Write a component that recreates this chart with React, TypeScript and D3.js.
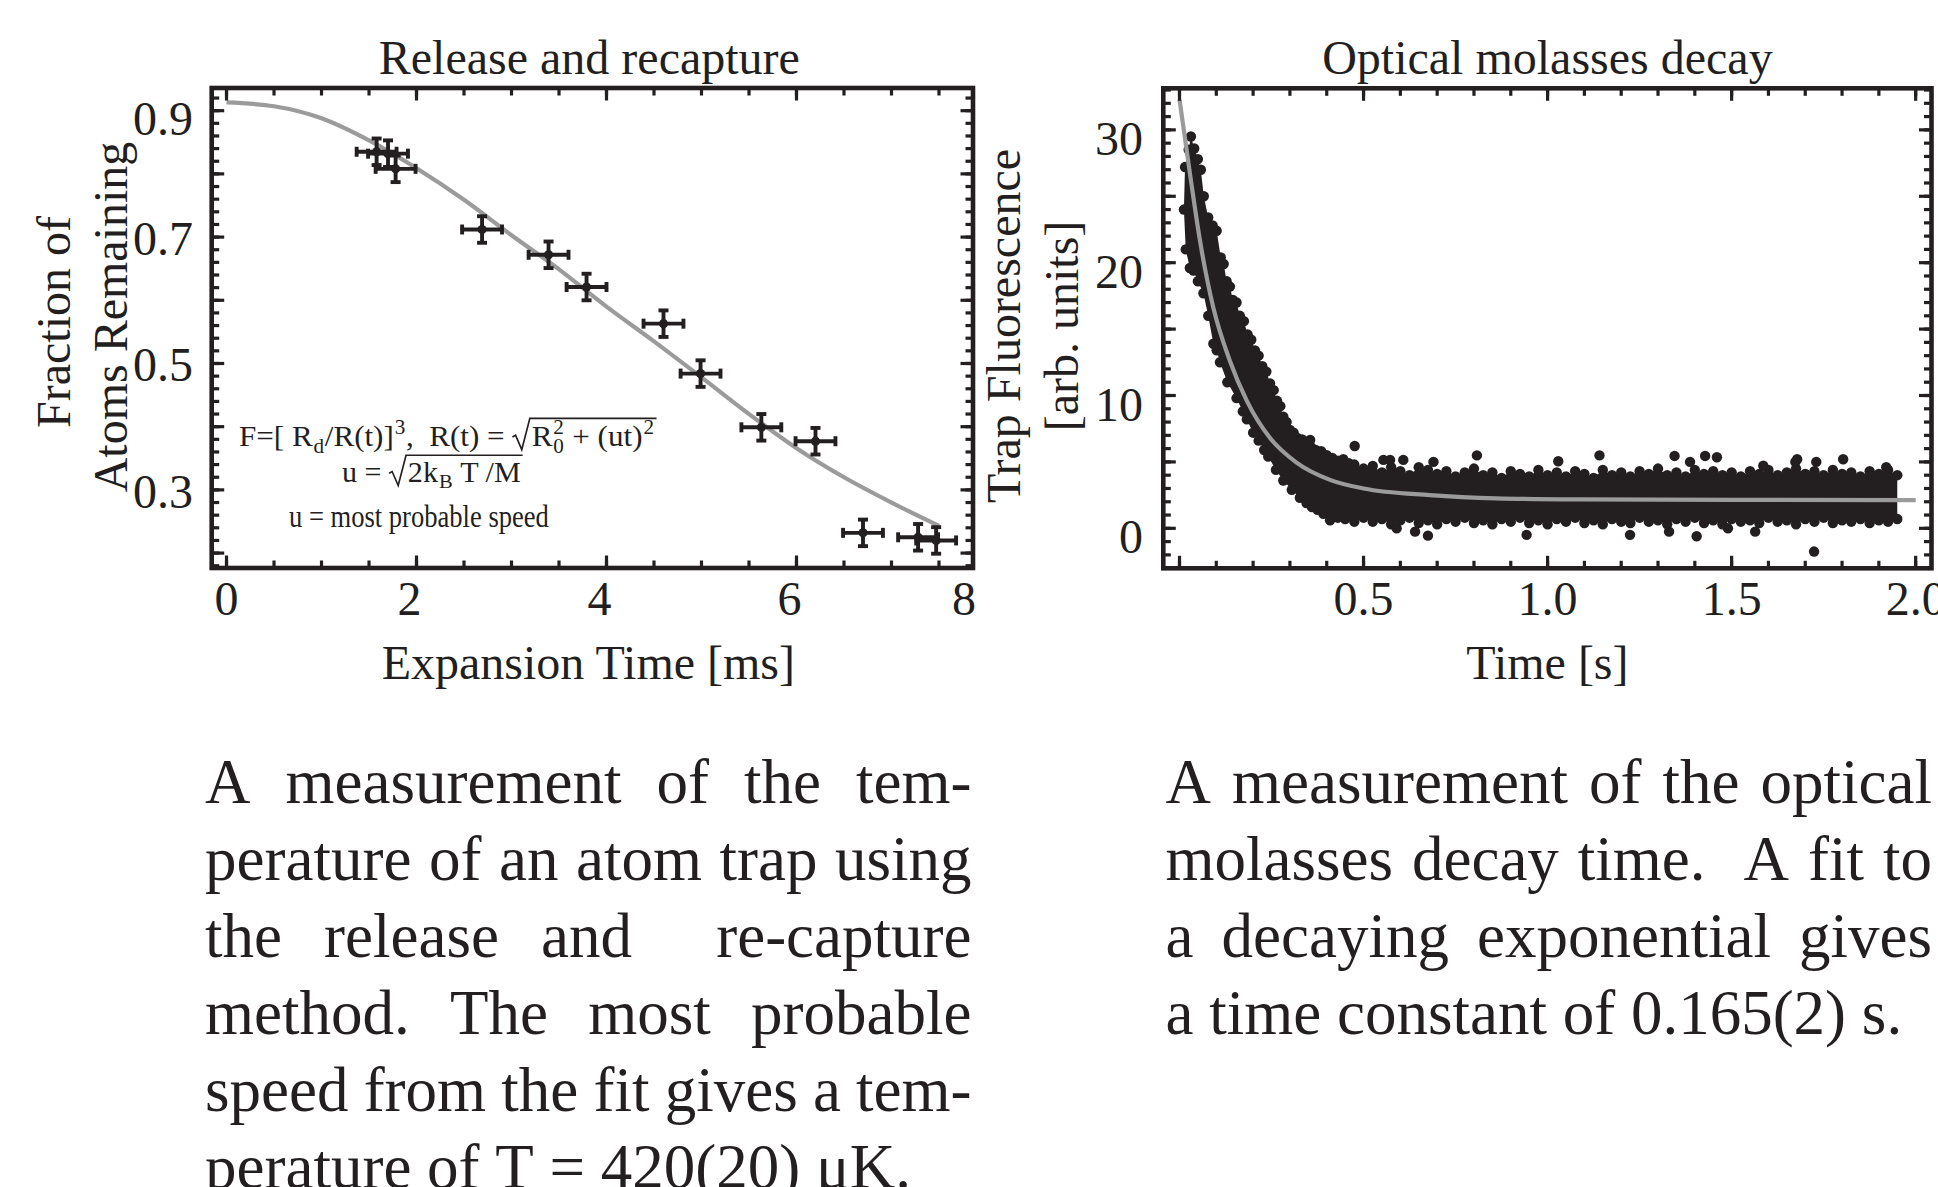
import React, { useEffect, useRef } from "react";
import * as d3 from "d3";

const INK = "#231f20";
const FIT_GRAY = "#9b9b9b";
const SERIF = "'Liberation Serif','Times New Roman',Times,serif";

// ---------------- Left panel: Release and recapture ----------------
const rrTitle = "Release and recapture";
const rrXLabel = "Expansion Time [ms]";
const rrYLabelLines = ["Fraction of", "Atoms Remaining"];
const rrTimes = [1.58, 1.70, 1.78, 2.69, 3.39, 3.79, 4.60, 4.99, 5.63, 6.20, 6.70, 7.28, 7.47];
const rrFractions = [0.835, 0.832, 0.808, 0.712, 0.672, 0.621, 0.563, 0.484, 0.399, 0.377, 0.232, 0.225, 0.220];
const rrTimeErrors = [0.21, 0.21, 0.21, 0.21, 0.21, 0.21, 0.21, 0.21, 0.21, 0.21, 0.21, 0.21, 0.21];
const rrFractionErrors = [0.021, 0.021, 0.021, 0.021, 0.021, 0.021, 0.021, 0.021, 0.021, 0.021, 0.021, 0.021, 0.021];
const rrFitTimes = [0, 0.5, 1.0, 1.5, 2.0, 2.5, 3.0, 3.5, 4.0, 4.5, 5.0, 5.5, 6.0, 6.5, 7.0, 7.5];
const rrFitValues = [0.913, 0.907, 0.888, 0.853, 0.809, 0.759, 0.703, 0.649, 0.590, 0.535, 0.478, 0.420, 0.366, 0.320, 0.280, 0.243];
const rrXTickValues = [0, 2, 4, 6, 8];
const rrXTickLabels = ["0", "2", "4", "6", "8"];
const rrYTickValues = [0.9, 0.7, 0.5, 0.3];
const rrYTickLabels = ["0.9", "0.7", "0.5", "0.3"];
const rrXDomain = [-0.156, 7.858];
const rrYDomain = [0.1764, 0.9359];

// ---------------- Right panel: Optical molasses decay ----------------
const mdTitle = "Optical molasses decay";
const mdXLabel = "Time [s]";
const mdYLabelLines = ["Trap Fluorescence", "[arb. units]"];
const mdFitTimes = [0, 0.03, 0.056, 0.092, 0.137, 0.183, 0.246, 0.318, 0.409, 0.5, 0.68, 0.86, 1.09, 1.5, 2.0];
const mdFitValues = [32.3, 26.4, 21.6, 16.6, 12.6, 9.6, 6.8, 4.95, 3.65, 3.0, 2.5, 2.26, 2.18, 2.14, 2.13];
// upper edge of the dense band of measured points (early decay)
const mdUpperEarlyTimes = [0.015, 0.025, 0.031, 0.040, 0.050, 0.058, 0.066, 0.078, 0.090, 0.101,
  0.112, 0.120, 0.128, 0.137, 0.145, 0.155, 0.164, 0.175, 0.185, 0.195,
  0.205, 0.215, 0.225, 0.236, 0.246, 0.256, 0.265, 0.274, 0.282, 0.291,
  0.300, 0.310, 0.320, 0.333, 0.345, 0.358, 0.370, 0.385, 0.400, 0.415,
  0.430, 0.445, 0.460, 0.475];
const mdUpperEarlyValues = [27.2, 28.5, 29.5, 28.6, 27.8, 27.0, 25.0, 23.4, 22.8, 22.4,
  20.4, 19.9, 18.6, 18.2, 17.2, 17.0, 16.0, 15.6, 14.6, 14.2,
  13.4, 13.0, 12.2, 11.8, 10.9, 10.4, 9.6, 9.2, 8.4, 8.0,
  7.4, 7.2, 6.8, 6.7, 6.3, 6.1, 5.9, 5.8, 5.5, 5.3,
  5.1, 5.2, 4.9, 4.8];
// upper edge of the band on the plateau
const mdUpperLateTimes = [0.500, 0.525, 0.550, 0.575, 0.600, 0.625, 0.650, 0.675, 0.700, 0.725,
  0.750, 0.775, 0.800, 0.825, 0.850, 0.875, 0.900, 0.925, 0.950, 0.975,
  1.000, 1.025, 1.050, 1.075, 1.100, 1.125, 1.150, 1.175, 1.200, 1.225,
  1.250, 1.275, 1.300, 1.325, 1.350, 1.375, 1.400, 1.425, 1.450, 1.475,
  1.500, 1.525, 1.550, 1.575, 1.600, 1.625, 1.650, 1.675, 1.700, 1.725,
  1.750, 1.775, 1.800, 1.825, 1.850, 1.875, 1.900, 1.925, 1.950];
const mdUpperLateValues = [4.5, 4.7, 4.2, 4.6, 4.3, 4.0, 4.6, 4.4, 4.1, 4.3,
  3.9, 4.2, 4.5, 4.0, 4.2, 3.8, 4.3, 4.1, 3.9, 4.4,
  4.0, 4.2, 3.9, 4.3, 4.1, 3.8, 4.4, 4.0, 4.2, 3.9,
  4.3, 4.1, 4.5, 4.0, 4.2, 3.9, 4.4, 4.1, 4.3, 4.0,
  4.2, 3.9, 4.3, 4.1, 4.4, 4.0, 4.2, 4.5, 4.1, 4.3,
  4.0, 4.4, 4.1, 4.2, 3.9, 4.3, 4.1, 4.4, 4.0];
// lower edge of the dense band of measured points
const mdLowerTimes = [0.012, 0.017, 0.028, 0.038, 0.050, 0.065, 0.078, 0.092, 0.101, 0.110,
  0.130, 0.155, 0.172, 0.183, 0.200, 0.215, 0.230, 0.241, 0.262, 0.282,
  0.305, 0.327, 0.345, 0.360, 0.375, 0.391, 0.409, 0.430, 0.450, 0.475,
  0.500, 0.525, 0.550, 0.575, 0.600, 0.625, 0.650, 0.675, 0.700, 0.725,
  0.750, 0.775, 0.800, 0.825, 0.850, 0.875, 0.900, 0.925, 0.950, 0.975,
  1.000, 1.025, 1.050, 1.075, 1.100, 1.125, 1.150, 1.175, 1.200, 1.225,
  1.250, 1.275, 1.300, 1.325, 1.350, 1.375, 1.400, 1.425, 1.450, 1.475,
  1.500, 1.525, 1.550, 1.575, 1.600, 1.625, 1.650, 1.675, 1.700, 1.725,
  1.750, 1.775, 1.800, 1.825, 1.850, 1.875, 1.900, 1.925, 1.950];
const mdLowerValues = [24.0, 21.0, 19.6, 19.4, 18.6, 17.7, 16.0, 13.9, 13.4, 12.5,
  11.0, 9.8, 8.8, 8.2, 7.2, 6.6, 5.9, 5.4, 4.4, 3.6,
  2.9, 2.3, 1.9, 1.6, 1.4, 1.1, 0.6, 0.8, 0.7, 0.5,
  0.8, 0.5, 0.7, 0.3, 0.6, 0.8, 0.4, 0.6, 0.3, 0.7,
  0.5, 0.8, 0.4, 0.6, 0.3, 0.7, 0.5, 0.8, 0.4, 0.6,
  0.3, 0.7, 0.5, 0.8, 0.4, 0.6, 0.3, 0.7, 0.5, 0.4,
  0.8, 0.5, 0.6, 0.3, 0.7, 0.5, 0.8, 0.4, 0.6, 0.3,
  0.7, 0.5, 0.6, 0.4, 0.8, 0.5, 0.6, 0.3, 0.7, 0.5,
  0.8, 0.4, 0.6, 0.5, 0.7, 0.4, 0.6, 0.5, 0.7];
// isolated points outside the band
const mdOutlierTimes = [0.355, 0.476, 0.554, 0.572, 0.608, 0.690, 0.808, 1.029, 1.141, 1.345,
  1.387, 1.428, 1.460, 1.586, 1.673, 1.678, 1.730, 1.803, 1.920,
  0.590, 0.640, 0.675, 0.943, 1.224, 1.330, 1.405, 1.490, 1.564, 1.724];
const mdOutlierValues = [6.65, 6.2, 5.15, 5.15, 5.15, 5.0, 5.49, 5.05, 5.49, 5.45,
  5.0, 5.45, 5.35, 4.71, 5.0, 5.2, 5.0, 5.2, 4.6,
  0.0, -0.25, -0.55, -0.49, -0.49, -0.25, -0.6, 0.0, -0.25, -1.75];
const mdXTickValues = [0.5, 1.0, 1.5, 2.0];
const mdXTickLabels = ["0.5", "1.0", "1.5", "2.0"];
const mdYTickValues = [30, 20, 10, 0];
const mdYTickLabels = ["30", "20", "10", "0"];
const mdXDomain = [-0.044, 2.043];
const mdYDomain = [-3.01, 33.13];

// ---------------- Captions ----------------
const leftCaption = [
  "A measurement of the tem-",
  "perature of an atom trap using",
  "the release and  re-capture",
  "method. The most probable",
  "speed from the fit gives a tem-",
  "perature of T = 420(20) \u03bcK.",
];
const rightCaption = [
  "A measurement of the optical",
  "molasses decay time.  A fit to",
  "a decaying exponential gives",
  "a time constant of 0.165(2) s.",
];

type G = d3.Selection<SVGGElement, unknown, null, undefined>;

function addText(g: G, str: string, x: number, y: number, size: number, anchor = "start") {
  return g
    .append("text")
    .attr("x", x)
    .attr("y", y)
    .attr("font-family", SERIF)
    .attr("font-size", size)
    .attr("fill", INK)
    .attr("text-anchor", anchor)
    .style("white-space", "pre")
    .text(str);
}

function drawFrame(
  g: G,
  x: d3.ScaleLinear<number, number>,
  y: d3.ScaleLinear<number, number>,
  xMajor: number[],
  xMinor: number[],
  yMajor: number[],
  yMinor: number[]
) {
  const [xa, xb] = x.range();
  const [yb, ya] = y.range();
  const inX = (v: number) => v >= Math.min(...x.domain()) && v <= Math.max(...x.domain());
  const inY = (v: number) => v >= Math.min(...y.domain()) && v <= Math.max(...y.domain());
  const tg = g.append("g").attr("stroke", INK).attr("stroke-width", 3.2);
  const vTicks = (vals: number[], len: number) =>
    vals.filter(inX).forEach((v) => {
      const px = x(v);
      tg.append("line").attr("x1", px).attr("x2", px).attr("y1", yb).attr("y2", yb - len);
      tg.append("line").attr("x1", px).attr("x2", px).attr("y1", ya).attr("y2", ya + len);
    });
  const hTicks = (vals: number[], len: number) =>
    vals.filter(inY).forEach((v) => {
      const py = y(v);
      tg.append("line").attr("x1", xa).attr("x2", xa + len).attr("y1", py).attr("y2", py);
      tg.append("line").attr("x1", xb).attr("x2", xb - len).attr("y1", py).attr("y2", py);
    });
  vTicks(xMinor, 7.5);
  vTicks(xMajor, 12.5);
  hTicks(yMinor, 7.5);
  hTicks(yMajor, 12.5);
  g.append("rect")
    .attr("x", xa)
    .attr("y", ya)
    .attr("width", xb - xa)
    .attr("height", yb - ya)
    .attr("fill", "none")
    .attr("stroke", INK)
    .attr("stroke-width", 4.6);
}

type Seg = { t?: string; sub?: string; sup?: string; rad?: Seg[] };

function typeset(g: G, segs: Seg[], x: number, y: number, fs: number): number {
  let cx = x;
  for (const s of segs) {
    if (s.rad) {
      const start = cx;
      const end = typeset(g, s.rad, cx + 0.62 * fs, y, fs) + 0.06 * fs;
      const p = d3.path();
      p.moveTo(start, y - 0.3 * fs);
      p.lineTo(start + 0.1 * fs, y - 0.36 * fs);
      p.lineTo(start + 0.3 * fs, y + 0.12 * fs);
      p.lineTo(start + 0.56 * fs, y - 0.92 * fs);
      p.lineTo(end, y - 0.92 * fs);
      g.append("path").attr("d", p.toString()).attr("fill", "none").attr("stroke", INK).attr("stroke-width", 1.6);
      cx = end + 0.08 * fs;
      continue;
    }
    if (s.t) {
      const t = addText(g, s.t, cx, y, fs);
      cx += (t.node() as SVGTextElement).getComputedTextLength();
    }
    let w = 0;
    if (s.sup) {
      const t = addText(g, s.sup, cx + 0.03 * fs, y - 0.4 * fs, fs * 0.68);
      w = Math.max(w, (t.node() as SVGTextElement).getComputedTextLength() + 0.05 * fs);
    }
    if (s.sub) {
      const t = addText(g, s.sub, cx + 0.03 * fs, y + 0.22 * fs, fs * 0.68);
      w = Math.max(w, (t.node() as SVGTextElement).getComputedTextLength() + 0.05 * fs);
    }
    cx += w;
  }
  return cx;
}

function fitWidth(g: G, x0: number, naturalWidth: number, target: number) {
  const s = Math.max(0.7, Math.min(1.35, target / naturalWidth));
  g.attr("transform", `translate(${x0},0) scale(${s},1) translate(${-x0},0)`);
}

function justifyLines(g: G, lines: string[], x0: number, x1: number, y0: number, lh: number, fs: number) {
  const probe = addText(g, "a a", -1000, -1000, fs);
  const probe2 = addText(g, "aa", -1000, -1000, fs);
  const spaceW =
    (probe.node() as SVGTextElement).getComputedTextLength() -
    (probe2.node() as SVGTextElement).getComputedTextLength();
  probe.remove();
  probe2.remove();
  lines.forEach((line, li) => {
    const y = y0 + li * lh;
    const tokens = line.split(" ");
    const words: string[] = [];
    const weights: number[] = [];
    let pending = 0;
    tokens.forEach((tok, i) => {
      if (i > 0) pending += 1;
      if (tok !== "") {
        if (words.length) weights.push(pending);
        words.push(tok);
        pending = 0;
      }
    });
    const nodes = words.map((w) => addText(g, w, 0, y, fs));
    const widths = nodes.map((n) => (n.node() as SVGTextElement).getComputedTextLength());
    const total = d3.sum(widths);
    const wsum = d3.sum(weights);
    const last = li === lines.length - 1;
    const unit = last || wsum === 0 ? spaceW : (x1 - x0 - total) / wsum;
    let cx = x0;
    nodes.forEach((n, i) => {
      n.attr("x", cx);
      cx += widths[i] + (i < weights.length ? weights[i] * unit : 0);
    });
  });
}

function drawLeft(root: G) {
  const g = root.append("g");
  const x = d3.scaleLinear().domain(rrXDomain).range([211.7, 973]);
  const y = d3.scaleLinear().domain(rrYDomain).range([568, 88]);
  const [xa, xb] = x.range();

  const line = d3
    .line<number>()
    .x((_, i) => x(rrFitTimes[i]))
    .y((d) => y(d))
    .curve(d3.curveMonotoneX);
  g.append("path")
    .attr("d", line(rrFitValues) as string)
    .attr("fill", "none")
    .attr("stroke", FIT_GRAY)
    .attr("stroke-width", 4.2);

  const eg = g.append("g").attr("stroke", INK).attr("stroke-width", 3.9);
  rrTimes.forEach((t, i) => {
    const v = rrFractions[i];
    const cx = x(t);
    const cy = y(v);
    const xl = x(t - rrTimeErrors[i]);
    const xr = x(t + rrTimeErrors[i]);
    const yt = y(v + rrFractionErrors[i]);
    const yb = y(v - rrFractionErrors[i]);
    const cap = 5;
    eg.append("line").attr("x1", xl).attr("x2", xr).attr("y1", cy).attr("y2", cy);
    eg.append("line").attr("x1", cx).attr("x2", cx).attr("y1", yt).attr("y2", yb);
    eg.append("line").attr("x1", xl).attr("x2", xl).attr("y1", cy - cap).attr("y2", cy + cap);
    eg.append("line").attr("x1", xr).attr("x2", xr).attr("y1", cy - cap).attr("y2", cy + cap);
    eg.append("line").attr("x1", cx - cap).attr("x2", cx + cap).attr("y1", yt).attr("y2", yt);
    eg.append("line").attr("x1", cx - cap).attr("x2", cx + cap).attr("y1", yb).attr("y2", yb);
    g.append("circle").attr("cx", cx).attr("cy", cy).attr("r", 4.6).attr("fill", INK);
  });

  drawFrame(
    g,
    x,
    y,
    [0, 2, 4, 6],
    d3.range(0, 8.01, 0.5),
    d3.range(0.2, 0.95, 0.1),
    d3.range(0.18, 0.95, 0.02)
  );

  rrXTickValues.forEach((v, i) => {
    const px = Math.min(x(v) - (v > 0 ? 7 : 0), xb - 9);
    addText(g, rrXTickLabels[i], px, 615, 48, "middle");
  });
  rrYTickValues.forEach((v, i) => {
    addText(g, rrYTickLabels[i], 193, y(v) + (v > 0.85 ? 24 : 18), 48, "end");
  });

  addText(g, rrTitle, (xa + xb) / 2 - 3, 73.5, 48, "middle");
  addText(g, rrXLabel, (xa + xb) / 2 - 4, 679, 48, "middle");
  const yc = [322, 317];
  [70, 127].forEach((bx, i) => {
    g.append("text")
      .attr("transform", `translate(${bx},${yc[i]}) rotate(-90)`)
      .attr("text-anchor", "middle")
      .attr("font-family", SERIF)
      .attr("font-size", 48)
      .attr("fill", INK)
      .text(rrYLabelLines[i]);
  });

  const l1 = g.append("g");
  const e1 = typeset(
    l1,
    [
      { t: "F=[ R", sub: "d" },
      { t: "/R(t)]", sup: "3" },
      { t: ",  R(t) = " },
      { rad: [{ t: "R", sub: "0", sup: "2" }, { t: " + (ut)", sup: "2" }] },
    ],
    239,
    446,
    30
  );
  fitWidth(l1, 239, e1 - 239, 420);
  const l2 = g.append("g");
  const e2 = typeset(l2, [{ t: "u = " }, { rad: [{ t: "2k", sub: "B" }, { t: " T /M" }] }], 342, 482, 29);
  fitWidth(l2, 342, e2 - 342, 183);
  const l3 = g.append("g");
  const t3 = addText(l3, "u = most probable speed", 289, 527, 31);
  fitWidth(l3, 289, (t3.node() as SVGTextElement).getComputedTextLength(), 260);
}

function drawRight(root: G) {
  const g = root.append("g");
  const x = d3.scaleLinear().domain(mdXDomain).range([1163.3, 1931.5]);
  const y = d3.scaleLinear().domain(mdYDomain).range([568.3, 88.3]);
  const [xa, xb] = x.range();

  const upper = [
    ...mdUpperEarlyTimes.map((t, i) => [t, mdUpperEarlyValues[i]] as [number, number]),
    ...mdUpperLateTimes.map((t, i) => [t, mdUpperLateValues[i]] as [number, number]),
  ];
  const lower = mdLowerTimes.map((t, i) => [t, mdLowerValues[i]] as [number, number]);
  const outliers = mdOutlierTimes.map((t, i) => [t, mdOutlierValues[i]] as [number, number]);

  const band = d3
    .line<[number, number]>()
    .x((d) => x(d[0]))
    .y((d) => y(d[1]))
    .curve(d3.curveLinearClosed);
  g.append("path")
    .attr("d", band([...upper, ...lower.slice().reverse()]) as string)
    .attr("fill", INK);
  g.append("g")
    .selectAll("circle")
    .data([...upper, ...lower, ...outliers])
    .join("circle")
    .attr("cx", (d) => x(d[0]))
    .attr("cy", (d) => y(d[1]))
    .attr("r", 5.2)
    .attr("fill", INK);

  const fit = d3
    .line<number>()
    .x((_, i) => x(mdFitTimes[i]))
    .y((d) => y(d))
    .curve(d3.curveMonotoneX);
  g.append("path")
    .attr("d", fit(mdFitValues) as string)
    .attr("fill", "none")
    .attr("stroke", FIT_GRAY)
    .attr("stroke-width", 4.2);

  drawFrame(g, x, y, d3.range(0, 2.01, 0.5), d3.range(0, 2.01, 0.1), d3.range(0, 33, 5), d3.range(-2, 34, 1));

  mdXTickValues.forEach((v, i) => addText(g, mdXTickLabels[i], x(v), 615, 48, "middle"));
  mdYTickValues.forEach((v, i) => addText(g, mdYTickLabels[i], 1143, y(v) + 25, 48, "end"));

  addText(g, mdTitle, (xa + xb) / 2, 73.5, 48, "middle");
  addText(g, mdXLabel, (xa + xb) / 2, 679, 48, "middle");
  const yc = 326;
  [1020, 1078].forEach((bx, i) => {
    g.append("text")
      .attr("transform", `translate(${bx},${yc}) rotate(-90)`)
      .attr("text-anchor", "middle")
      .attr("font-family", SERIF)
      .attr("font-size", 48)
      .attr("fill", INK)
      .text(mdYLabelLines[i]);
  });
}

export default function App() {
  const ref = useRef<SVGSVGElement>(null);
  useEffect(() => {
    if (!ref.current) return;
    const svg = d3.select(ref.current);
    svg.selectAll("*").remove();
    svg.append("rect").attr("width", 1938).attr("height", 1187).attr("fill", "#ffffff");
    const root = svg.append("g") as unknown as G;
    drawLeft(root);
    drawRight(root);
    const cap = root.append("g");
    justifyLines(cap, leftCaption, 205, 971.5, 803, 77, 63);
    justifyLines(cap, rightCaption, 1165.5, 1932, 803, 77, 63);
  }, []);
  return (
    <svg
      ref={ref}
      width={1938}
      height={1187}
      style={{ position: "fixed", left: 0, top: 0, display: "block" }}
    />
  );
}
